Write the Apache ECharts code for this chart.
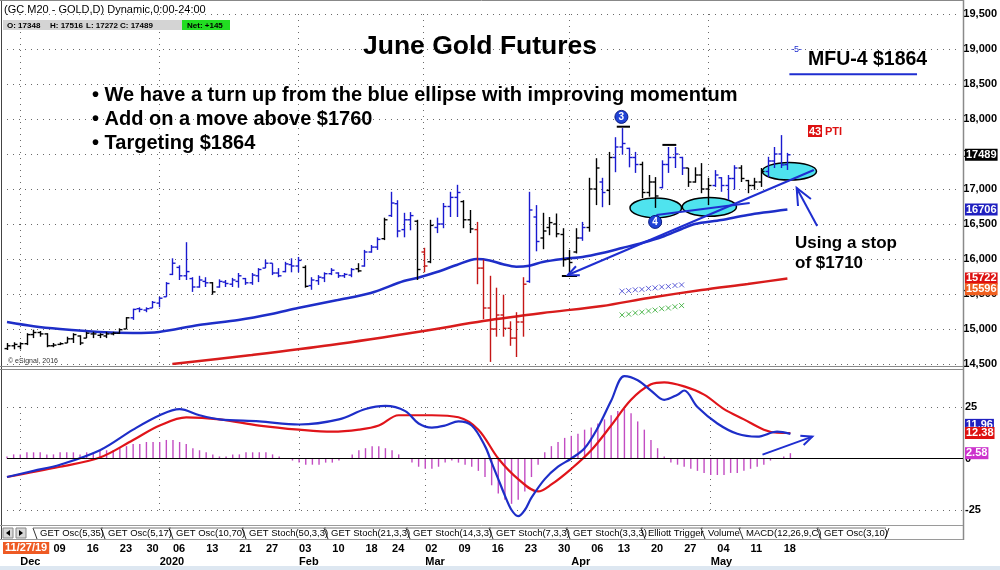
<!DOCTYPE html>
<html><head><meta charset="utf-8">
<script src="https://cdn.jsdelivr.net/npm/echarts@6/dist/echarts.min.js"></script>
<style>html,body{margin:0;padding:0;background:#fff}#c{width:1000px;height:570px}</style>
</head><body><div id="c"></div><script>
// ---------- DATA ----------
const dates = ['11/27','11/29','12/02','12/03','12/04','12/05','12/06','12/09','12/10','12/11','12/12','12/13','12/16','12/17','12/18','12/19','12/20','12/23','12/24','12/26','12/27','12/30','12/31','01/02','01/03','01/06','01/07','01/08','01/09','01/10','01/13','01/14','01/15','01/16','01/17','01/21','01/22','01/23','01/24','01/27','01/28','01/29','01/30','01/31','02/03','02/04','02/05','02/06','02/07','02/10','02/11','02/12','02/13','02/14','02/18','02/19','02/20','02/21','02/24','02/25','02/26','02/27','02/28','03/02','03/03','03/04','03/05','03/06','03/09','03/10','03/11','03/12','03/13','03/16','03/17','03/18','03/19','03/20','03/23','03/24','03/25','03/26','03/27','03/30','03/31','04/01','04/02','04/03','04/06','04/07','04/08','04/09','04/13','04/14','04/15','04/16','04/17','04/20','04/21','04/22','04/23','04/24','04/27','04/28','04/29','04/30','05/01','05/04','05/05','05/06','05/07','05/08','05/11','05/12','05/13','05/14','05/15','05/18','05/19'];
const futureSlots = 26;
const opens = [14720,14760,14750,14790,14920,14950,14930,14760,14780,14800,
14860,14900,14870,14930,14910,14900,14930,14940,15000,15160,
15290,15270,15300,15370,15460,15780,15880,15760,15720,15600,
15680,15660,15600,15670,15640,15680,15720,15660,15760,15870,
15940,15800,15820,15920,15900,15880,15620,15690,15730,15790,
15800,15760,15770,15860,15900,16100,16170,16290,16620,16790,
16420,16560,16540,16100,15960,16450,16500,16750,16880,16820,
16560,16420,15870,15300,15000,15200,15010,14870,15100,15680,
16600,16300,16450,16500,16350,16000,16100,16300,16450,17000,
17100,16980,17450,17600,17580,17450,17350,16950,17100,17020,
17350,17450,17450,17300,17100,17200,17000,17050,17160,17050,
17150,17300,17120,17050,17100,17250,17400,17500,17348];
const highs = [14800,14810,14810,14940,14990,14970,14940,14800,14810,14890,
14940,14910,14960,14960,14940,14960,14960,15010,15170,15290,
15310,15310,15400,15460,15670,16010,15910,16240,15740,15760,
15740,15670,15710,15700,15730,15800,15730,15800,15870,15990,
15940,15870,15960,16010,16030,15910,15740,15770,15810,15870,
15810,15800,15870,15940,16130,16200,16310,16590,16960,16840,
16660,16670,16560,16160,16560,16590,16800,16960,17060,16840,
16700,16530,15990,15760,15590,15490,15110,15240,15740,16960,
16770,16660,16600,16650,16440,16130,16440,16530,17160,17440,
17160,17530,17740,17870,17590,17530,17390,17200,17170,17410,
17600,17600,17460,17300,17310,17370,17160,17270,17170,17200,
17340,17340,17130,17160,17300,17460,17600,17770,17516];
const lows = [14700,14710,14710,14770,14870,14890,14740,14740,14770,14800,
14800,14770,14870,14870,14870,14870,14910,14930,15000,15130,
15240,15240,15300,15310,15460,15770,15700,15700,15530,15590,
15600,15490,15590,15600,15600,15590,15630,15630,15670,15870,
15770,15740,15810,15810,15810,15590,15560,15630,15670,15770,
15730,15730,15740,15810,15890,16090,16130,16270,16600,16310,
16310,16410,15700,15810,15940,16370,16440,16600,16600,16440,
16370,15640,15140,14530,14890,14890,14760,14600,14890,15660,
16110,16140,16340,16310,15890,15770,16080,16260,16390,16770,
16740,16770,17240,17490,17310,17230,16870,16890,16730,17010,
17230,17300,17200,17030,17090,16940,16770,17030,16960,16840,
16990,17100,16940,16990,17030,17170,17300,17300,17272];
const closes = [14760,14780,14790,14920,14950,14930,14760,14770,14790,14860,
14920,14800,14940,14930,14920,14930,14940,14990,15160,15280,
15280,15290,15380,15440,15650,15940,15760,15820,15600,15700,
15660,15530,15680,15650,15700,15760,15660,15770,15850,15940,
15800,15760,15930,15900,15980,15610,15700,15740,15790,15840,
15760,15780,15850,15830,16100,16170,16280,16560,16800,16400,
16560,16620,15850,15900,16480,16500,16750,16880,16950,16560,
16430,15870,15300,15000,15200,15010,14870,15100,15640,16700,
16250,16400,16520,16360,15990,15950,16300,16450,17000,17300,
16950,17450,17600,17650,17450,17350,16950,17100,16900,17350,
17450,17500,17300,17100,17200,17000,17050,17200,17050,17150,
17300,17150,17050,17100,17250,17400,17500,17344,17489];
// bar colouring state: 1 = up (blue), 0 = neutral (black), -1 = down (red)
const barTrend = [0,0,0,0,0,0,0,0,0,0, 0,0,0,0,0,0,0,0,0,1, 1,1,1,1,1,1,1,1,1,1,
1,0,1,1,1,1,1,1,1,1, 1,1,1,1,1,0,1,1,1,1, 1,1,1,0,1,1,1,0,1,1,
1,1,0,-1,0,1,1,1,1,0, 0,-1,-1,-1,-1,-1,-1,-1,-1,1, 1,0,0,0,0,0,0,1,0,0,
1,0,1,1,1,1,0,0,0,1, 1,1,1,0,0,0,0,1,1,1, 1,0,0,0,0,1,1,1,1];
const maBlue = [[0,15100],[4,15040],[8,15000],[14,14957],[19,14943],[23,14957],[29,15057],[35,15129],[40,15214],[44,15300],[50,15414],[55,15514],[60,15686],[62,15729],[65,15814],[68,15914],[71,16000],[73,15980],[75,15925],[77,15890],[79,15905],[81,15957],[84,16000],[87,16030],[90,16086],[93,16157],[96,16229],[99,16314],[102,16429],[104,16500],[108,16557],[112,16629],[118,16706]];
const maRed = [[25,14500],[37,14629],[49,14771],[63,14971],[72,15114],[81,15229],[90,15329],[97,15443],[105,15557],[112,15643],[118,15722]];
const crossBlue = [[93,15540],[94,15548],[95,15560],[96,15566],[97,15580],[98,15588],[99,15600],[100,15608],[101,15622],[102,15630]];
const crossGreen = [[93,15200],[94,15212],[95,15230],[96,15240],[97,15258],[98,15270],[99,15290],[100,15300],[101,15318],[102,15335]];
const macdLine = [[0,-9],[4,-6],[8,-3],[14,4],[19,14],[23,21],[26,24],[29,21],[32,19],[38,18],[44,16.5],[50,19],[54,24],[57,25.5],[60,23],[62,17],[64,15],[66,16],[68,18],[70,16],[72,6],[73,-2],[74,-10],[75,-18],[76,-25],[77,-28],[78,-25],[79,-19],[81,-10],[83,-4],[85,0],[87,5],[89,15],[91,28],[93,40],[95,38],[97,33],[99,28.5],[101,31],[102,33],[104,25],[107,17],[110,12],[113,10.6],[116,13],[118,11.96]];
const signalLine = [[0,-9],[8,-4],[14,0.5],[19,9],[23,16],[27,20],[32,19],[38,16],[44,14],[49,13],[53,14],[56,16],[59,21],[64,21],[68,20],[71,14],[74,0],[77,-10],[80,-16],[82,-12.6],[85,-5],[88,4],[91,16],[94,28.5],[97,36],[99,37],[102,35],[105,31],[108,24],[111,19],[114,14],[116,12.5],[118,12.38]];
const histogram = [1,2,2,3,3,3,2,2,3,3, 3,2,3,3,4,4,4,5,6,7, 7,8,8,8,9,9,8,7,5,4,
3,2,1,1,2,2,3,3,3,3, 2,1,0,-1,-2,-3,-3,-3,-2,-2, -1,0,2,4,5,6,6,5,4,2,
0,-2,-4,-5,-5,-4,-2,-1,-2,-3, -4,-6,-9,-13,-17,-20,-22,-20,-16,-9,
-3,3,6,8,10,11,12,14,15,17, 19,21,23,24,22,18,14,9,5,1,
-2,-3,-4,-5,-6,-7,-8,-8,-8,-7, -7,-6,-5,-4,-3,-1,0,1,2.58];
const weekTickLabels = {7:'09',12:'16',17:'23',21:'30',25:'06',30:'13',35:'21',39:'27',44:'03',49:'10',54:'18',58:'24',63:'02',68:'09',73:'16',78:'23',83:'30',88:'06',92:'13',97:'20',102:'27',107:'04',112:'11',117:'18'};
const monthTickLabels = {2:'Dec',23:'2020',44:'Feb',63:'Mar',85:'Apr',106:'May'};
const priceTicks = {min:14500, max:19500, step:500};
const oscTicks = {min:-25, max:25, step:25};
const lastClose = 17489, lastBlueMA = 16706, lastRedMA = 15722, otherLevel = 15596;
const lastMacd = 11.96, lastSignal = 12.38, lastHist = 2.58;
const targetLevel = 18640;
// hand-drawn annotations in data coordinates [barIndex, value]
const supportLine = [[84.8,15771],[122,17271]];
const ellipseLine = [[98.2,16629],[112.3,16800]];
const stopArrow = [[122.5,16471],[119.4,17014]];
const ellipses = [[98.1,16730,3.9,140],[106.2,16745,4.1,135],[118.3,17253,4.1,125]];
const waveMarks = [[92.9,18030,'3'],[98,16530,'4']];
const pivotMarks = [[92.2,94.2,17890],[99.1,101.2,17630],[83.9,86.2,15757]];
const oscArrow = [[113.8,1.9],[121.3,10.6]];
const targetSpan = [118.3,137.6];

// ---------- CHART ----------
const FONT = '"Liberation Sans", Arial, sans-serif';
const cats = dates.concat(Array.from({length: futureSlots}, (_, k) => '+' + (k + 1)));
const monthIdx = new Set(Object.keys(monthTickLabels).map(Number));
const ohlc = dates.map((d, i) => [i, opens[i], highs[i], lows[i], closes[i], barTrend[i]]);
const trendColors = ['#c41616', '#000000', '#1a1acf'];
const dotted = {show: true, interval: (i) => monthIdx.has(i), lineStyle: {color: '#6a6a6a', type: [1, 5], width: 1}};

const chart = echarts.init(document.getElementById('c'), null, {renderer: 'canvas'});
const option = {
  animation: false,
  backgroundColor: '#ffffff',
  grid: [
    {left: 7, right: 37, top: 14, height: 350},
    {left: 7, right: 37, top: 407, height: 103}
  ],
  xAxis: [
    {gridIndex: 0, type: 'category', position: 'bottom', data: cats, boundaryGap: false, axisLine: {show: false}, axisTick: {show: false}, axisLabel: {show: false}, splitLine: dotted},
    {gridIndex: 1, type: 'category', position: 'bottom', data: cats, boundaryGap: false, axisLine: {show: false}, axisTick: {show: false}, splitLine: dotted,
      offset: 25,
      axisLabel: {show: true, interval: (i) => weekTickLabels[i] !== undefined, formatter: (v, i) => weekTickLabels[i] || '', align: 'left', margin: 8, color: '#000', fontSize: 11, fontWeight: 'bold', fontFamily: FONT}},
    {gridIndex: 1, type: 'category', position: 'bottom', data: cats, boundaryGap: false, axisLine: {show: false}, axisTick: {show: false}, splitLine: {show: false},
      offset: 38,
      axisLabel: {show: true, interval: (i) => monthTickLabels[i] !== undefined, formatter: (v, i) => monthTickLabels[i] || '', align: 'left', margin: 8, color: '#000', fontSize: 11, fontWeight: 'bold', fontFamily: FONT}}
  ],
  yAxis: [
    {gridIndex: 0, type: 'value', position: 'right', min: priceTicks.min, max: priceTicks.max, interval: priceTicks.step,
      axisLine: {show: false}, axisTick: {show: false},
      axisLabel: {margin: 4, align: 'left', color: '#000', fontSize: 11, fontWeight: 'bold', fontFamily: FONT},
      splitLine: {lineStyle: {color: '#6a6a6a', type: [1, 5]}}},
    {gridIndex: 1, type: 'value', position: 'right', min: oscTicks.min, max: oscTicks.max, interval: oscTicks.step,
      axisLine: {show: false}, axisTick: {show: false},
      axisLabel: {margin: 2, align: 'left', color: '#000', fontSize: 11, fontWeight: 'bold', fontFamily: FONT},
      splitLine: {lineStyle: {color: '#6a6a6a', type: [1, 5]}}}
  ],
  series: [
    {type: 'line', name: 'MA slow', xAxisIndex: 0, yAxisIndex: 0, data: maRed, smooth: 0.3, symbol: 'none', z: 3,
      lineStyle: {color: '#d81c1c', width: 2.5}},
    {type: 'line', name: 'MA fast', xAxisIndex: 0, yAxisIndex: 0, data: maBlue, smooth: 0.3, symbol: 'none', z: 3,
      lineStyle: {color: '#1e2ec8', width: 2.5}},
    {type: 'custom', name: 'OHLC', xAxisIndex: 0, yAxisIndex: 0, data: ohlc, z: 4,
      encode: {x: 0, y: [1, 2, 3, 4]},
      renderItem: (params, api) => {
        const i = api.value(0);
        const h = api.coord([i, api.value(2)]), l = api.coord([i, api.value(3)]);
        const o = api.coord([i, api.value(1)]), c = api.coord([i, api.value(4)]);
        const col = trendColors[api.value(5) + 1];
        const x = Math.round(h[0]) + 0.5;
        const st = {stroke: col, lineWidth: 1.4};
        return {type: 'group', children: [
          {type: 'line', shape: {x1: x, y1: h[1], x2: x, y2: l[1]}, style: st},
          {type: 'line', shape: {x1: x - 3, y1: o[1], x2: x, y2: o[1]}, style: st},
          {type: 'line', shape: {x1: x, y1: c[1], x2: x + 3, y2: c[1]}, style: st}
        ]};
      }},
    {type: 'scatter', xAxisIndex: 0, yAxisIndex: 0, data: crossBlue, symbol: 'path://M0,0L10,10M10,0L0,10', symbolSize: 5, z: 3,
      itemStyle: {color: 'none', borderColor: '#3a3ad0', borderWidth: 1}},
    {type: 'scatter', xAxisIndex: 0, yAxisIndex: 0, data: crossGreen, symbol: 'path://M0,0L10,10M10,0L0,10', symbolSize: 5, z: 3,
      itemStyle: {color: 'none', borderColor: '#2aa82a', borderWidth: 1}},
    {type: 'bar', name: 'Hist', xAxisIndex: 1, yAxisIndex: 1, data: histogram, barWidth: 1.4, z: 2,
      itemStyle: {color: '#c24cc2'},
      markLine: {silent: true, symbol: 'none', label: {show: false}, lineStyle: {color: '#000', type: 'solid', width: 1}, data: [{yAxis: 0}]}},
    {type: 'line', name: 'Signal', xAxisIndex: 1, yAxisIndex: 1, data: signalLine, smooth: 0.35, symbol: 'none', clip: false, z: 3,
      lineStyle: {color: '#e0141a', width: 2.2}},
    {type: 'line', name: 'MACD', xAxisIndex: 1, yAxisIndex: 1, data: macdLine, smooth: 0.35, symbol: 'none', clip: false, z: 4,
      lineStyle: {color: '#1e2ec8', width: 2.2}}
  ]
};
chart.setOption(option);

// ---------- ANNOTATIONS / FRAME ----------
function px(i, v, pane) {
  const f = {xAxisIndex: pane, yAxisIndex: pane};
  const a = chart.convertToPixel(f, [0, v]);
  const b = chart.convertToPixel(f, [1, v]);
  return [a[0] + (b[0] - a[0]) * i, a[1]];
}
function line(p1, p2, color, w, z) {
  return {type: 'line', z: z || 20, shape: {x1: p1[0], y1: p1[1], x2: p2[0], y2: p2[1]}, style: {stroke: color, lineWidth: w || 1}};
}
function arrowHead(tip, from, len, color, w) {
  const ang = Math.atan2(from[1] - tip[1], from[0] - tip[0]);
  const a1 = ang + 0.42, a2 = ang - 0.42;
  return {type: 'polyline', z: 20, shape: {points: [[tip[0] + len * Math.cos(a1), tip[1] + len * Math.sin(a1)], tip, [tip[0] + len * Math.cos(a2), tip[1] + len * Math.sin(a2)]]},
    style: {stroke: color, lineWidth: w || 2, fill: null}};
}
function txt(x, y, text, font, fill, extra) {
  return Object.assign({type: 'text', z: 30, x: x, y: y, style: Object.assign({text: text, font: font, fill: fill || '#000', align: 'left', verticalAlign: 'middle'}, extra || {})});
}
function valBox(y, text, bg, fg) {
  return {type: 'text', z: 40, x: 965, y: y, style: {text: text, font: 'bold 11px ' + FONT, fill: fg || '#fff', backgroundColor: bg, padding: [1, 1, 0, 1], align: 'left', verticalAlign: 'middle'}};
}

const g = [];
const BLUE = '#1f2ed0';
// frame
g.push({type: 'rect', z: 0, shape: {x: 0, y: 566, width: 1000, height: 4}, style: {fill: '#dde7f1'}});
g.push(line([1.5, 0], [1.5, 540], '#444', 1, 1));
g.push(line([0, 0.5], [963, 0.5], '#888', 1, 1));
g.push(line([963.5, 0], [963.5, 540], '#8a8a8a', 1.5, 1));
g.push(line([0, 366.5], [963, 366.5], '#8a8a8a', 1, 1));
g.push(line([0, 369.5], [963, 369.5], '#8a8a8a', 1, 1));
g.push(line([0, 525.5], [963, 525.5], '#9a9a9a', 1, 1));
g.push(line([0, 539.5], [963, 539.5], '#9a9a9a', 1, 1));

// header
g.push(txt(4, 10, '(GC M20 - GOLD,D) Dynamic,0:00-24:00', '11px ' + FONT, '#000'));
g.push({type: 'rect', z: 29, shape: {x: 3, y: 20, width: 179, height: 10}, style: {fill: '#d4d4d4'}});
g.push({type: 'rect', z: 29, shape: {x: 182, y: 20, width: 48, height: 10}, style: {fill: '#22dd22'}});
g.push(txt(7, 25.5, 'O: 17348', 'bold 8px ' + FONT));
g.push(txt(50, 25.5, 'H: 17516', 'bold 8px ' + FONT));
g.push(txt(86, 25.5, 'L: 17272', 'bold 8px ' + FONT));
g.push(txt(120, 25.5, 'C: 17489', 'bold 8px ' + FONT));
g.push(txt(187, 25.5, 'Net: +145', 'bold 8px ' + FONT));

// title and notes
g.push(txt(480, 47, 'June Gold Futures', 'bold 26.5px ' + FONT, '#000', {align: 'center'}));
g.push(txt(92, 95, '\u2022 We have a turn up from the blue ellipse with improving momentum', 'bold 20px ' + FONT));
g.push(txt(92, 119, '\u2022 Add on a move above $1760', 'bold 20px ' + FONT));
g.push(txt(92, 143, '\u2022 Targeting $1864', 'bold 20px ' + FONT));
g.push(txt(795, 243, 'Using a stop', 'bold 17px ' + FONT));
g.push(txt(795, 263, 'of $1710', 'bold 17px ' + FONT));
g.push(txt(808, 60, 'MFU-4 $1864', 'bold 19.5px ' + FONT));
g.push(txt(791, 50, '-5-', '9px ' + FONT, BLUE));
g.push({type: 'rect', z: 29, shape: {x: 808, y: 125, width: 14, height: 12}, style: {fill: '#dd1111'}});
g.push(txt(809, 131.5, '43', 'bold 11px ' + FONT, '#fff'));
g.push(txt(825, 131.5, 'PTI', 'bold 11px ' + FONT, '#dd1111'));
g.push(txt(8, 361, '\u00a9 eSignal, 2016', '7px ' + FONT, '#333'));

// target line
g.push(line(px(targetSpan[0], targetLevel, 0), px(targetSpan[1], targetLevel, 0), BLUE, 2));

// ellipses (under bars)
ellipses.forEach(e => {
  const c = px(e[0], e[1], 0);
  const r = px(e[0] + e[2], e[1] + e[3], 0);
  g.push({type: 'ellipse', z: 1, shape: {cx: c[0], cy: c[1], rx: r[0] - c[0], ry: c[1] - r[1]}, style: {fill: '#4fe3ee', stroke: '#000', lineWidth: 1.5}});
});
// pivot marks
pivotMarks.forEach(p => g.push(line(px(p[0], p[2], 0), px(p[1], p[2], 0), '#000', 2)));
// trendlines
{
  const a = px(supportLine[0][0], supportLine[0][1], 0), b = px(supportLine[1][0], supportLine[1][1], 0);
  g.push(line(a, b, BLUE, 2)); g.push(arrowHead(a, b, 12, BLUE, 2));
  const c = px(ellipseLine[0][0], ellipseLine[0][1], 0), d = px(ellipseLine[1][0], ellipseLine[1][1], 0);
  g.push(line(c, d, BLUE, 2));
  const s = px(stopArrow[0][0], stopArrow[0][1], 0), t = px(stopArrow[1][0], stopArrow[1][1], 0);
  g.push(line(s, t, BLUE, 2)); g.push(arrowHead(t, s, 18, BLUE, 2));
  const m = px(oscArrow[0][0], oscArrow[0][1], 1), n = px(oscArrow[1][0], oscArrow[1][1], 1);
  g.push(line(m, n, BLUE, 2)); g.push(arrowHead(n, m, 12, BLUE, 2));
}
// wave count circles
waveMarks.forEach(w => {
  const c = px(w[0], w[1], 0);
  g.push({type: 'circle', z: 25, shape: {cx: c[0], cy: c[1], r: 6.5}, style: {fill: '#2143d6', stroke: '#0a1a80', lineWidth: 1}});
  g.push(txt(c[0], c[1] + 0.5, w[2], 'bold 10px ' + FONT, '#fff', {align: 'center'}));
});

// right-axis value boxes
g.push(valBox(px(0, lastClose, 0)[1], String(lastClose), '#000'));
g.push(valBox(px(0, lastBlueMA, 0)[1], String(lastBlueMA), '#2020c0'));
g.push(valBox(px(0, lastRedMA, 0)[1], String(lastRedMA), '#dd1111'));
g.push(valBox(px(0, otherLevel, 0)[1] + 2, String(otherLevel), '#f06020'));
g.push(valBox(px(0, lastMacd, 1)[1] - 9, lastMacd.toFixed(2), '#2020c0'));
g.push(valBox(px(0, lastSignal, 1)[1], lastSignal.toFixed(2), '#dd1111'));
g.push(valBox(px(0, lastHist, 1)[1], lastHist.toFixed(2), '#cc33cc'));

// first date box
g.push({type: 'text', z: 40, x: 3, y: 548, style: {text: '11/27/19', font: 'bold 11px ' + FONT, fill: '#fff', backgroundColor: '#ee5a24', padding: [1, 2, 0, 2], align: 'left', verticalAlign: 'middle'}});

// tab bar
g.push({type: 'rect', z: 5, shape: {x: 3, y: 528, width: 10, height: 10}, style: {fill: '#d8d8d8', stroke: '#888'}});
g.push({type: 'rect', z: 5, shape: {x: 16, y: 528, width: 10, height: 10}, style: {fill: '#d8d8d8', stroke: '#888'}});
g.push({type: 'polygon', z: 6, shape: {points: [[10, 530], [10, 536], [6, 533]]}, style: {fill: '#000'}});
g.push({type: 'polygon', z: 6, shape: {points: [[19, 530], [19, 536], [23, 533]]}, style: {fill: '#000'}});
const tabs = [['GET Osc(5,35)', 40], ['GET Osc(5,17)', 108], ['GET Osc(10,70)', 176], ['GET Stoch(50,3,3)', 249], ['GET Stoch(21,3,3)', 331], ['GET Stoch(14,3,3)', 413], ['GET Stoch(7,3,3)', 496], ['GET Stoch(3,3,3)', 573], ['Elliott Trigger', 648], ['Volume', 708], ['MACD(12,26,9,C)', 746], ['GET Osc(3,10)', 824]];
const tabEnds = [103, 171, 244, 326, 408, 491, 568, 643, 703, 741, 819, 886];
tabs.forEach((t, k) => {
  const xs = t[1], xe = tabEnds[k];
  g.push({type: 'polyline', z: 5, shape: {points: [[xs - 7, 528], [xs - 3, 539]]}, style: {stroke: '#333', lineWidth: 1, fill: null}});
  g.push({type: 'polyline', z: 5, shape: {points: [[xs - 7, 528], [xe, 528]]}, style: {stroke: '#777', lineWidth: 1, fill: null}});
  if (k === tabs.length - 1) g.push({type: 'polyline', z: 5, shape: {points: [[xe + 3, 528], [xe - 1, 539]]}, style: {stroke: '#333', lineWidth: 1, fill: null}});
  g.push(txt(xs, 533.5, t[0], '9.5px ' + FONT, '#000'));
});

chart.setOption({graphic: g});
</script></body></html>
